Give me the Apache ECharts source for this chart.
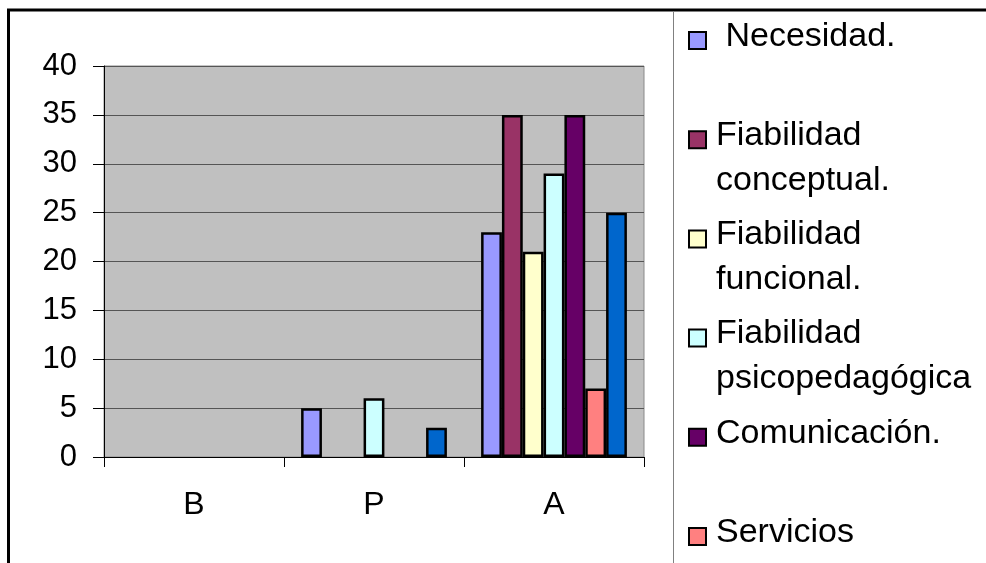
<!DOCTYPE html>
<html>
<head>
<meta charset="utf-8">
<script src="https://cdn.jsdelivr.net/npm/echarts@6/dist/echarts.min.js"></script>
<style>
  html, body { margin: 0; padding: 0; background: #fff; }
  #chart { width: 986px; height: 563px; }
</style>
</head>
<body>
<div id="chart"></div>
<script>
// Evaluation levels on the category axis
const categories = ['B', 'P', 'A'];

// Series names and the wrapped lines shown for each in the legend
const seriesNames = [
  'Necesidad.',
  'Fiabilidad conceptual.',
  'Fiabilidad funcional.',
  'Fiabilidad psicopedagógica',
  'Comunicación.',
  'Servicios informáticos.',
  'Recursos.'
];
const legendLines = [
  ['\u00a0Necesidad.', ''],
  ['Fiabilidad', 'conceptual.'],
  ['Fiabilidad', 'funcional.'],
  ['Fiabilidad', 'psicopedagógica'],
  ['Comunicación.', ''],
  ['Servicios', 'informáticos.'],
  ['Recursos.', '']
];

// Counts per level (B, P, A)
const necesidad      = [0, 5, 23];
const fiabConceptual = [0, 0, 35];
const fiabFuncional  = [0, 0, 21];
const fiabPsico      = [0, 6, 29];
const comunicacion   = [0, 0, 35];
const servicios      = [0, 0, 7];
const recursos       = [0, 3, 25];

const seriesValues = [necesidad, fiabConceptual, fiabFuncional, fiabPsico, comunicacion, servicios, recursos];
const colors = ['#9999FF', '#993366', '#FFFFCC', '#CCFFFF', '#660066', '#FF8080', '#0066CC'];

const FONT = "'Liberation Sans', Arial, sans-serif";

const chart = echarts.init(document.getElementById('chart'), null, { renderer: 'canvas' });

const series = seriesNames.map((name, i) => ({
  name: name,
  type: 'bar',
  barGap: '0%',
  barCategoryGap: '19%',
  itemStyle: { color: colors[i], borderColor: '#000', borderWidth: 2.5 },
  emphasis: { disabled: true },
  // zero counts leave no visible bar
  data: seriesValues[i].map(v => v === 0 ? { value: v, itemStyle: { borderWidth: 0 } } : v)
}));

// Legend text: a short spacer line on top so the swatch sits beside the first text line
function legendText(name) {
  const lines = legendLines[seriesNames.indexOf(name)];
  return '{p|\u00a0}\n' + lines.map(l => '{t|' + (l || '\u00a0') + '}').join('\n');
}

chart.setOption({
  animation: false,
  backgroundColor: '#fff',
  grid: {
    left: 104, right: 342, top: 66, bottom: 106,
    show: true,
    backgroundColor: '#C0C0C0',
    borderColor: '#8a8a8a',
    borderWidth: 1
  },
  xAxis: {
    type: 'category',
    data: categories,
    axisLine: { show: true, lineStyle: { color: '#000', width: 1 } },
    axisTick: { show: true, length: 10, lineStyle: { color: '#000' } },
    axisLabel: { fontFamily: FONT, fontSize: 32, color: '#000', margin: 32 },
    splitLine: { show: false }
  },
  yAxis: {
    type: 'value',
    min: 0, max: 40, interval: 5,
    axisLine: { show: true, lineStyle: { color: '#000', width: 1 } },
    axisTick: { show: true, length: 11, lineStyle: { color: '#000' } },
    axisLabel: { fontFamily: FONT, fontSize: 31, color: '#000', margin: 27 },
    splitLine: { show: true, lineStyle: { color: '#555', width: 1 } }
  },
  legend: {
    orient: 'vertical',
    left: 688,
    top: -21.5,
    height: 2000,
    padding: 0,
    itemGap: -20.8,
    itemWidth: 17,
    itemHeight: 17,
    icon: 'rect',
    selectedMode: false,
    itemStyle: { borderColor: '#000', borderWidth: 2 },
    textStyle: {
      fontFamily: FONT, fontSize: 34, color: '#000',
      padding: [0, 0, 0, 5],
      rich: {
        p: { fontFamily: FONT, fontSize: 34, lineHeight: 37 },
        t: { fontFamily: FONT, fontSize: 34, lineHeight: 45, color: '#000' }
      }
    },
    formatter: legendText,
    data: seriesNames
  },
  graphic: [
    {
      type: 'rect',
      z: 100,
      silent: true,
      shape: { x: 8.5, y: 10, width: 1200, height: 1000 },
      style: { fill: 'none', stroke: '#000', lineWidth: 3 }
    },
    {
      type: 'line',
      z: 100,
      silent: true,
      shape: { x1: 673.5, y1: 11, x2: 673.5, y2: 563 },
      style: { stroke: '#808080', lineWidth: 1 }
    }
  ],
  series: series
});
</script>
</body>
</html>
